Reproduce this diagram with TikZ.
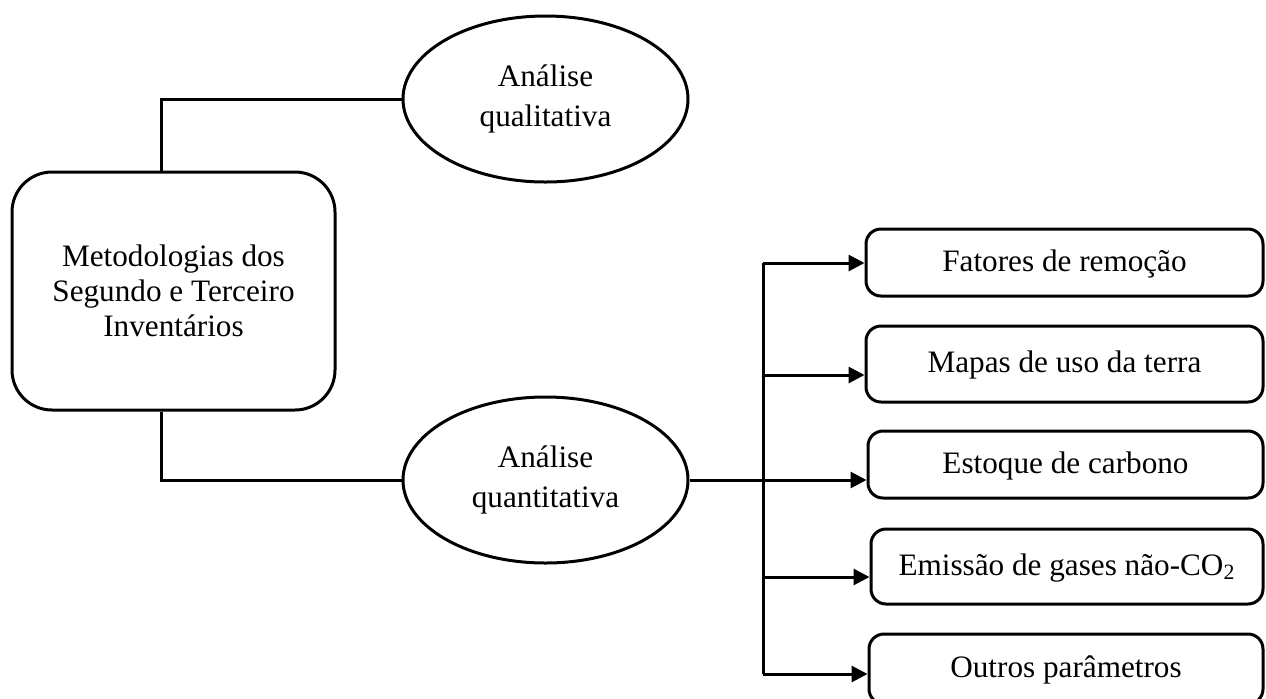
\documentclass[tikz,border=0pt]{standalone}
\usepackage{fontspec}
\setmainfont{Liberation Serif}
\usetikzlibrary{shapes.geometric,arrows.meta}
\begin{document}
\begin{tikzpicture}[x=.5pt, y=-.5pt, >={Triangle[length=8pt,width=8pt]}, line width=1.5pt,
  txt/.style={font=\fontsize{15.6}{17.5}\selectfont, align=center, inner sep=0pt},
  mainbox/.style={txt, draw, rounded corners=20pt, minimum width=161.5pt, minimum height=119pt},
  oval/.style={txt, font=\fontsize{15.6}{20}\selectfont, draw, ellipse, minimum width=142.5pt, minimum height=83pt},
  item/.style={txt, draw, rounded corners=7.5pt, minimum width=198.5pt, text depth=2pt}]
\clip (0,0) rectangle (1266,698);
\node[mainbox] (meto) at (173.5,291) {Metodologias dos\\Segundo e Terceiro\\Inventários};
\node[oval] (quali) at (545.5,99) {Análise\\qualitativa};
\node[oval] (quanti) at (545.5,480) {Análise\\quantitativa};
\node[item, minimum height=33.5pt] (rem) at (1064.5,262.5) {Fatores de remoção};
\node[item, minimum height=38pt] (mapa) at (1064.5,364) {Mapas de uso da terra};
\node[item, minimum height=33.5pt, minimum width=197.5pt] (est) at (1065.5,464.5) {Estoque de carbono};
\node[item, minimum height=37.5pt, minimum width=196pt] (emi) at (1067,566.5) {Emissão de gases não-CO\textsubscript{2}};
\node[item, minimum height=35pt, minimum width=197pt] (out) at (1066,669) {Outros parâmetros};
% tronco das setas
\coordinate (t1) at (763,263);
\coordinate (t2) at (763,375);
\coordinate (t4) at (763,577);
\coordinate (t5) at (763,674);
\draw ([xshift=-6.25pt]meto.north) |- (quali.west);
\draw ([xshift=-6.25pt]meto.south) |- (quanti.west);
\draw (t1)--(t5);
\draw[->] (quanti.east)--(quanti.east -| est.west);
\draw[->] (t1)--(t1 -| rem.west);
\draw[->] (t2)--(t2 -| mapa.west);
\draw[->] (t4)--(t4 -| emi.west);
\draw[->] (t5)--(t5 -| out.west);
\end{tikzpicture}
\end{document}
